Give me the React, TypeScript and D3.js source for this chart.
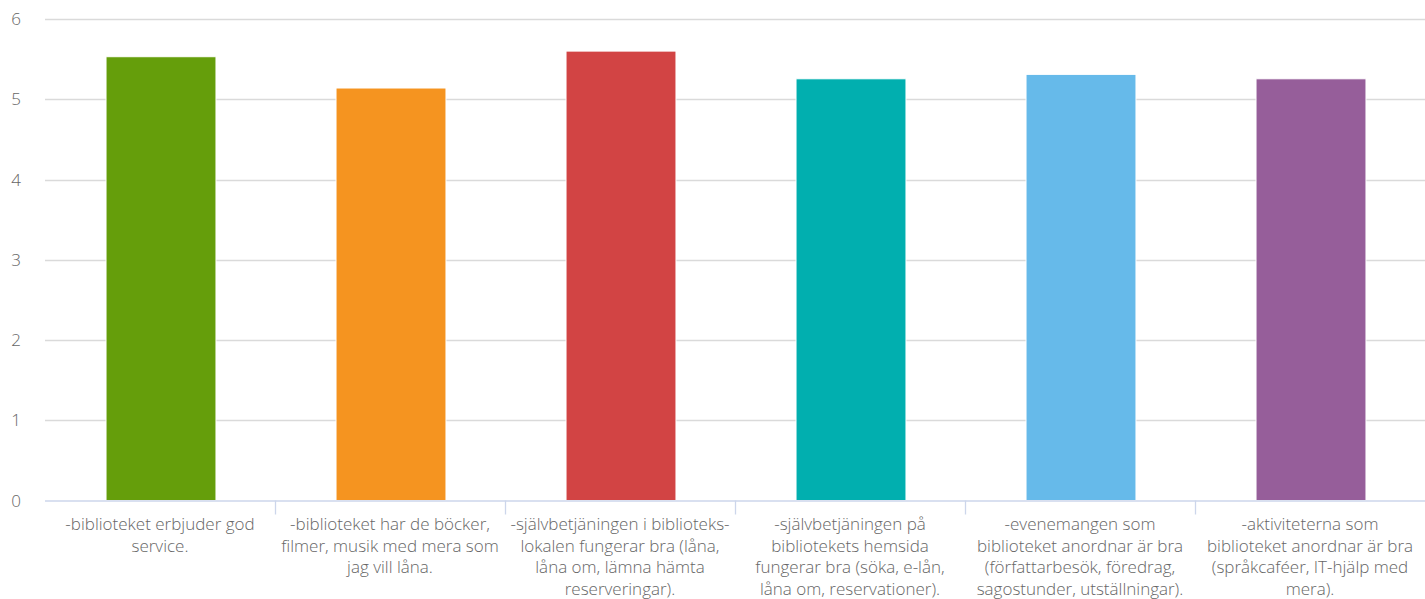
import React from "react";
import * as d3 from "d3";

const categories = [
  "-biblioteket erbjuder god\nservice.",
  "-biblioteket har de böcker,\nfilmer, musik med mera som\njag vill låna.",
  "-självbetjäningen i biblioteks-\nlokalen fungerar bra (låna,\nlåna om, lämna hämta\nreserveringar).",
  "-självbetjäningen på\nbibliotekets hemsida\nfungerar bra (söka, e-lån,\nlåna om, reservationer).",
  "-evenemangen som\nbiblioteket anordnar är bra\n(författarbesök, föredrag,\nsagostunder, utställningar).",
  "-aktiviteterna som\nbiblioteket anordnar är bra\n(språkcaféer, IT-hjälp med\nmera).",
];
const values = [5.53, 5.14, 5.6, 5.255, 5.31, 5.255];
const colors = ["#659e0b", "#f59420", "#d24444", "#01afaf", "#66baea", "#965e9a"];
const yTicks = [0, 1, 2, 3, 4, 5, 6];

const W = 1425;
const H = 599;
const left = 45;
const right = 1425;
const top = 19;
const bottom = 500.5;
const FONT = "'Open Sans', sans-serif";

export default function App() {
  const x = d3.scaleBand<number>().domain(d3.range(categories.length)).range([left, right]).paddingInner(0).paddingOuter(0);
  const y = d3.scaleLinear().domain([0, 6]).range([bottom, top]);
  const bw = x.bandwidth() * 0.478;

  return (
    <svg width={W} height={H} style={{ position: "absolute", left: 0, top: 0 }}>
      <rect x={0} y={0} width={W} height={H} fill="#ffffff" />
      {yTicks.map((t) => (
        <g key={t}>
          {t > 0 && (
            <line x1={left} x2={right} y1={Math.round(y(t)) + 0.5} y2={Math.round(y(t)) + 0.5} stroke="#dadada" strokeWidth={1.3} />
          )}
          <text x={21} y={y(t) + 6} textAnchor="end" fontFamily={FONT} fontWeight={300} fontSize={17} fill="#666666">
            {t}
          </text>
        </g>
      ))}
      {values.map((v, i) => {
        const cx = (x(i) as number) + x.bandwidth() / 2 + 1;
        return (
          <rect
            key={i}
            x={cx - bw / 2}
            y={y(v)}
            width={bw}
            height={y(0) - y(v)}
            fill={colors[i]}
            stroke="#ffffff"
            strokeWidth={1}
          />
        );
      })}
      <line x1={left} x2={right} y1={bottom + 0.5} y2={bottom + 0.5} stroke="#ccd6eb" strokeWidth={1.3} />
      {d3.range(1, categories.length).map((i) => {
        const tx = Math.round(x(i) as number) + 0.5;
        return <line key={i} x1={tx} x2={tx} y1={bottom} y2={bottom + 14} stroke="#ccd6eb" strokeWidth={1.3} />;
      })}
      {categories.map((c, i) => {
        const cx = (x(i) as number) + x.bandwidth() / 2;
        return (
          <text key={i} textAnchor="middle" fontFamily={FONT} fontWeight={300} fontSize={17} fill="#666666">
            {c.split("\n").map((ln, j) => (
              <tspan key={j} x={cx} y={530 + j * 21.7}>
                {ln}
              </tspan>
            ))}
          </text>
        );
      })}
    </svg>
  );
}
